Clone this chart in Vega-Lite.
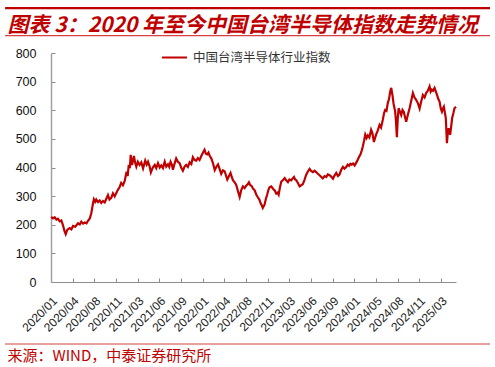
{
  "$schema": "https://vega.github.io/schema/vega-lite/v6.json",
  "width": 405,
  "height": 229,
  "autosize": {"type": "none"},
  "padding": {"left": 51, "top": 53, "right": 39, "bottom": 85},
  "background": "white",
  "config": {"view": {"stroke": null}, "font": "Liberation Sans"},
  "resolve": {"scale": {"x": "independent", "y": "independent"}, "axis": {"x": "independent", "y": "independent"}},
  "layer": [
    {
      "data": {"values": [
        {"t": 0.01, "v": 228}, {"t": 0.09, "v": 222}, {"t": 0.17, "v": 226}, {"t": 0.25, "v": 218}, {"t": 0.32, "v": 221}, {"t": 0.40, "v": 212}, {"t": 0.48, "v": 215},
        {"t": 0.55, "v": 199}, {"t": 0.63, "v": 176}, {"t": 0.68, "v": 167}, {"t": 0.75, "v": 182},
        {"t": 0.86, "v": 188}, {"t": 0.94, "v": 184}, {"t": 1.02, "v": 196}, {"t": 1.12, "v": 193}, {"t": 1.25, "v": 205}, {"t": 1.33, "v": 201}, {"t": 1.40, "v": 211},
        {"t": 1.48, "v": 204}, {"t": 1.56, "v": 208}, {"t": 1.64, "v": 205}, {"t": 1.71, "v": 214}, {"t": 1.79, "v": 222}, {"t": 1.86, "v": 240},
        {"t": 1.94, "v": 275}, {"t": 1.98, "v": 289}, {"t": 2.04, "v": 280}, {"t": 2.09, "v": 288}, {"t": 2.17, "v": 279}, {"t": 2.25, "v": 285},
        {"t": 2.32, "v": 276}, {"t": 2.40, "v": 283}, {"t": 2.48, "v": 278}, {"t": 2.55, "v": 290}, {"t": 2.63, "v": 304}, {"t": 2.70, "v": 288}, {"t": 2.78, "v": 294},
        {"t": 2.86, "v": 310}, {"t": 2.94, "v": 299}, {"t": 3.02, "v": 312}, {"t": 3.09, "v": 322}, {"t": 3.17, "v": 332}, {"t": 3.24, "v": 346}, {"t": 3.32, "v": 338}, {"t": 3.40, "v": 352},
        {"t": 3.49, "v": 385}, {"t": 3.54, "v": 370}, {"t": 3.59, "v": 409}, {"t": 3.64, "v": 398}, {"t": 3.68, "v": 444}, {"t": 3.74, "v": 409},
        {"t": 3.79, "v": 425}, {"t": 3.83, "v": 440}, {"t": 3.88, "v": 418}, {"t": 3.94, "v": 403}, {"t": 4.01, "v": 420}, {"t": 4.09, "v": 409}, {"t": 4.17, "v": 418}, {"t": 4.25, "v": 397},
        {"t": 4.35, "v": 424}, {"t": 4.42, "v": 410}, {"t": 4.48, "v": 420}, {"t": 4.55, "v": 405}, {"t": 4.61, "v": 383}, {"t": 4.70, "v": 400}, {"t": 4.79, "v": 409},
        {"t": 4.86, "v": 398}, {"t": 4.94, "v": 415}, {"t": 5.02, "v": 400}, {"t": 5.09, "v": 407}, {"t": 5.17, "v": 398}, {"t": 5.25, "v": 420}, {"t": 5.32, "v": 403}, {"t": 5.40, "v": 411},
        {"t": 5.46, "v": 402}, {"t": 5.52, "v": 420}, {"t": 5.58, "v": 410}, {"t": 5.63, "v": 392}, {"t": 5.70, "v": 412}, {"t": 5.78, "v": 432}, {"t": 5.86, "v": 420}, {"t": 5.94, "v": 415},
        {"t": 6.01, "v": 400}, {"t": 6.09, "v": 389}, {"t": 6.17, "v": 403}, {"t": 6.24, "v": 409}, {"t": 6.32, "v": 402}, {"t": 6.40, "v": 418}, {"t": 6.48, "v": 412}, {"t": 6.55, "v": 436},
        {"t": 6.63, "v": 426}, {"t": 6.71, "v": 424}, {"t": 6.78, "v": 433}, {"t": 6.86, "v": 426}, {"t": 6.94, "v": 440}, {"t": 7.02, "v": 452}, {"t": 7.09, "v": 462},
        {"t": 7.15, "v": 448}, {"t": 7.21, "v": 446}, {"t": 7.27, "v": 452}, {"t": 7.32, "v": 442}, {"t": 7.40, "v": 432}, {"t": 7.48, "v": 415}, {"t": 7.56, "v": 391},
        {"t": 7.63, "v": 402}, {"t": 7.71, "v": 411}, {"t": 7.78, "v": 396}, {"t": 7.86, "v": 378}, {"t": 7.94, "v": 390}, {"t": 8.02, "v": 386}, {"t": 8.08, "v": 372}, {"t": 8.14, "v": 358},
        {"t": 8.22, "v": 370}, {"t": 8.29, "v": 381}, {"t": 8.35, "v": 366}, {"t": 8.40, "v": 356}, {"t": 8.48, "v": 348}, {"t": 8.55, "v": 340}, {"t": 8.63, "v": 318}, {"t": 8.71, "v": 297},
        {"t": 8.78, "v": 320}, {"t": 8.86, "v": 334}, {"t": 8.94, "v": 328}, {"t": 9.01, "v": 336}, {"t": 9.08, "v": 341}, {"t": 9.14, "v": 348}, {"t": 9.20, "v": 338}, {"t": 9.26, "v": 336},
        {"t": 9.33, "v": 326}, {"t": 9.40, "v": 321}, {"t": 9.48, "v": 305}, {"t": 9.55, "v": 296}, {"t": 9.62, "v": 288}, {"t": 9.68, "v": 275}, {"t": 9.73, "v": 268}, {"t": 9.78, "v": 259},
        {"t": 9.86, "v": 270}, {"t": 9.92, "v": 290}, {"t": 9.98, "v": 305}, {"t": 10.04, "v": 322}, {"t": 10.09, "v": 331}, {"t": 10.17, "v": 334}, {"t": 10.25, "v": 326},
        {"t": 10.33, "v": 320}, {"t": 10.40, "v": 309}, {"t": 10.46, "v": 312}, {"t": 10.51, "v": 305}, {"t": 10.57, "v": 330}, {"t": 10.63, "v": 350}, {"t": 10.71, "v": 356}, {"t": 10.79, "v": 363},
        {"t": 10.86, "v": 355}, {"t": 10.94, "v": 349}, {"t": 11.01, "v": 358}, {"t": 11.09, "v": 355}, {"t": 11.16, "v": 362}, {"t": 11.22, "v": 367}, {"t": 11.27, "v": 358}, {"t": 11.32, "v": 356},
        {"t": 11.40, "v": 346}, {"t": 11.48, "v": 334}, {"t": 11.55, "v": 338}, {"t": 11.63, "v": 342}, {"t": 11.70, "v": 356}, {"t": 11.78, "v": 374}, {"t": 11.86, "v": 386}, {"t": 11.94, "v": 395},
        {"t": 12.01, "v": 388}, {"t": 12.09, "v": 384}, {"t": 12.17, "v": 389}, {"t": 12.24, "v": 384}, {"t": 12.32, "v": 378}, {"t": 12.40, "v": 373}, {"t": 12.48, "v": 367}, {"t": 12.55, "v": 362},
        {"t": 12.63, "v": 370}, {"t": 12.71, "v": 367}, {"t": 12.78, "v": 376}, {"t": 12.86, "v": 373}, {"t": 12.94, "v": 368}, {"t": 13.02, "v": 361}, {"t": 13.09, "v": 372}, {"t": 13.17, "v": 381},
        {"t": 13.25, "v": 370}, {"t": 13.32, "v": 375}, {"t": 13.40, "v": 392}, {"t": 13.48, "v": 402}, {"t": 13.55, "v": 396}, {"t": 13.63, "v": 402}, {"t": 13.70, "v": 410}, {"t": 13.76, "v": 406},
        {"t": 13.82, "v": 413}, {"t": 13.88, "v": 410}, {"t": 13.95, "v": 414}, {"t": 14.02, "v": 407}, {"t": 14.10, "v": 418}, {"t": 14.17, "v": 428}, {"t": 14.23, "v": 438}, {"t": 14.29, "v": 446},
        {"t": 14.35, "v": 460}, {"t": 14.40, "v": 474}, {"t": 14.46, "v": 495}, {"t": 14.51, "v": 515}, {"t": 14.57, "v": 503}, {"t": 14.63, "v": 512}, {"t": 14.70, "v": 505}, {"t": 14.78, "v": 532},
        {"t": 14.84, "v": 520}, {"t": 14.91, "v": 489}, {"t": 14.96, "v": 502}, {"t": 15.01, "v": 515}, {"t": 15.09, "v": 530}, {"t": 15.17, "v": 549}, {"t": 15.24, "v": 540}, {"t": 15.32, "v": 567},
        {"t": 15.38, "v": 590}, {"t": 15.43, "v": 601}, {"t": 15.49, "v": 598}, {"t": 15.55, "v": 625}, {"t": 15.61, "v": 640}, {"t": 15.66, "v": 665}, {"t": 15.71, "v": 678},
        {"t": 15.77, "v": 650}, {"t": 15.82, "v": 622}, {"t": 15.89, "v": 596}, {"t": 15.93, "v": 560}, {"t": 15.97, "v": 506}, {"t": 16.01, "v": 570}, {"t": 16.05, "v": 607},
        {"t": 16.11, "v": 595}, {"t": 16.17, "v": 583}, {"t": 16.23, "v": 601}, {"t": 16.29, "v": 594}, {"t": 16.35, "v": 575}, {"t": 16.40, "v": 560}, {"t": 16.48, "v": 585}, {"t": 16.56, "v": 608},
        {"t": 16.63, "v": 632}, {"t": 16.71, "v": 660}, {"t": 16.78, "v": 645}, {"t": 16.86, "v": 636}, {"t": 16.94, "v": 625}, {"t": 17.02, "v": 606}, {"t": 17.09, "v": 630}, {"t": 17.17, "v": 653},
        {"t": 17.25, "v": 645}, {"t": 17.32, "v": 660}, {"t": 17.40, "v": 668}, {"t": 17.48, "v": 683}, {"t": 17.53, "v": 665}, {"t": 17.58, "v": 672}, {"t": 17.64, "v": 668}, {"t": 17.71, "v": 678},
        {"t": 17.77, "v": 665}, {"t": 17.83, "v": 652}, {"t": 17.88, "v": 640}, {"t": 17.94, "v": 630}, {"t": 18.00, "v": 605}, {"t": 18.05, "v": 595}, {"t": 18.10, "v": 606}, {"t": 18.14, "v": 612},
        {"t": 18.19, "v": 590}, {"t": 18.23, "v": 572}, {"t": 18.28, "v": 485}, {"t": 18.32, "v": 520}, {"t": 18.36, "v": 537}, {"t": 18.43, "v": 514},
        {"t": 18.48, "v": 545}, {"t": 18.52, "v": 572}, {"t": 18.58, "v": 590}, {"t": 18.63, "v": 607}, {"t": 18.70, "v": 612}
      ]},
      "mark": {"type": "line", "strokeWidth": 2.2, "interpolate": "linear"},
      "encoding": {
        "x": {
          "field": "t", "type": "quantitative",
          "scale": {"domain": [0, 18.7], "nice": false, "zero": false},
          "axis": {
            "title": "来源：WIND，中泰证券研究所",
            "titleFont": "Noto Sans CJK SC", "titleFontSize": 15, "titleFontWeight": "normal",
            "titleColor": "#C00000", "titleAnchor": "start", "titleAlign": "left",
            "titleBaseline": "middle", "titleX": -44, "titleY": 73,
            "values": [0,1,2,3,4,5,6,7,8,9,10,11,12,13,14,15,16,17,18],
            "labelExpr": "['2020/01','2020/04','2020/08','2020/11','2021/03','2021/06','2021/09','2022/01','2022/04','2022/08','2022/11','2023/03','2023/06','2023/09','2024/01','2024/05','2024/08','2024/11','2025/03'][datum.value]",
            "labelAngle": -45, "labelFontSize": 12, "labelColor": "#222", "labelPadding": 17,
            "labelFlush": false, "labelOverlap": false,
            "grid": false, "domainColor": "#8C8C8C", "domainWidth": 1,
            "tickColor": "#8C8C8C", "tickSize": -4
          }
        },
        "y": {
          "field": "v", "type": "quantitative",
          "scale": {"domain": [0, 800], "nice": false},
          "axis": {
            "title": "图表 3：2020 年至今中国台湾半导体指数走势情况",
            "titleAngle": 0, "titleX": -44, "titleY": -22, "titleAlign": "left", "titleAnchor": "start",
            "titleBaseline": "alphabetic", "titleFont": "Noto Sans CJK SC", "titleFontSize": 21,
            "titleFontWeight": "bold", "titleFontStyle": "italic", "titleColor": "#C00000",
            "values": [0,100,200,300,400,500,600,700,800],
            "labelFontSize": 12.5, "labelColor": "#111", "labelPadding": 19,
            "grid": false, "domainColor": "#A0A0A0", "domainWidth": 1.5,
            "tickColor": "#8C8C8C", "tickSize": -4
          }
        },
        "color": {
          "datum": "中国台湾半导体行业指数",
          "scale": {"range": ["#C00000"]},
          "legend": {
            "orient": "none", "legendX": 110, "legendY": -9, "title": null,
            "symbolType": "stroke", "symbolSize": 625, "symbolStrokeWidth": 2,
            "labelFont": "Noto Sans CJK SC", "labelFontSize": 12.5, "labelColor": "#333",
            "labelOffset": 5, "padding": 0
          }
        }
      }
    },
    {
      "data": {"values": [{}]},
      "mark": {"type": "rect", "color": "#C00000", "clip": false},
      "encoding": {
        "x": {"datum": -2.12, "scale": {"domain": [0, 18.7], "nice": false, "zero": false}, "axis": null},
        "x2": {"datum": 20.27},
        "y": {"datum": 953, "scale": {"domain": [0, 800], "nice": false, "zero": false}, "axis": null},
        "y2": {"datum": 961}
      }
    },
    {
      "data": {"values": [{}]},
      "mark": {"type": "rule", "color": "#D64040", "strokeWidth": 1, "clip": false},
      "encoding": {
        "x": {"datum": -2.12, "scale": {"domain": [0, 18.7], "nice": false, "zero": false}, "axis": null},
        "x2": {"datum": 20.27},
        "y": {"datum": -216.6, "scale": {"domain": [0, 800], "nice": false}, "axis": null}
      }
    },
    {
      "data": {"values": [{}]},
      "mark": {"type": "rule", "color": "#D64040", "strokeWidth": 1.2, "clip": false},
      "encoding": {
        "x": {"datum": -2.12, "scale": {"domain": [0, 18.7], "nice": false, "zero": false}, "axis": null},
        "x2": {"datum": 20.27},
        "y": {"datum": 861, "scale": {"domain": [0, 800], "nice": false}, "axis": null}
      }
    }
  ]
}
